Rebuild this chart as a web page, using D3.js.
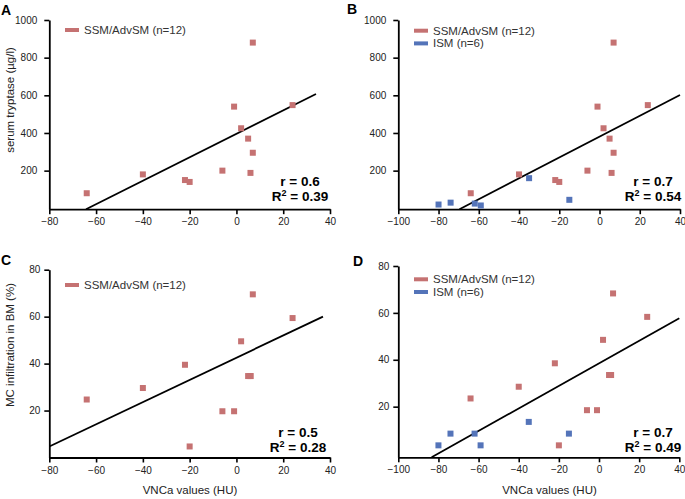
<!DOCTYPE html>
<html>
<head>
<meta charset="utf-8">
<script src="https://cdn.jsdelivr.net/npm/d3@7"></script>
<style>
  html, body { margin: 0; padding: 0; background: #fff; }
  svg { display: block; font-family: "Liberation Sans", Arial, sans-serif; }
</style>
</head>
<body>
<svg id="chart" width="685" height="499"></svg>
<script>
// ---------------- DATA ----------------
// Panel A / B : serum tryptase vs VNCa
const ssmVNCa      = [-64, -40, -22, -20, -6, -1, 2, 5, 7, 6, 7, 24];
const ssmTryptase  = [80, 180, 150, 140, 200, 540, 425, 370, 295, 188, 880, 548];
const ismVNCa      = [-80, -74, -62, -59, -35, -15];
const ismTryptase  = [20, 30, 25, 15, 160, 45];

// Panel C : MC infiltration (SSM/AdvSM only)
const ssmVNCaMC    = [-64, -40, -22, -20, -6, -1, 2, 5, 6, 6, 7, 24];
const ssmMCinfC    = [24.7, 29.6, 39.5, 4.7, 19.7, 19.7, 49.5, 34.7, 34.7, 34.7, 69.5, 59.4];
// Panel D : MC infiltration (both groups)
const ssmMCinfD    = [23.5, 28.5, 38.5, 3.5, 18.5, 18.5, 48.5, 33.5, 33.5, 33.5, 68.3, 58.3];
const ismMCinfD    = [3.5, 8.5, 8.5, 3.5, 13.5, 8.5];

// Regression lines (end points)
const fitAx = [-64.3, 34],   fitAy = [-4.8, 607];
const fitBx = [-69.6, 40],   fitBy = [-4.8, 602];
const fitCx = [-80, 37],     fitCy = [4.7, 60];
const fitDx = [-83.4, 40],   fitDy = [-1.6, 57.7];

// Statistics
const panelLetters = ["A", "B", "C", "D"];
const rValues  = ["0.6", "0.7", "0.5", "0.7"];
const r2Values = ["0.39", "0.54", "0.28", "0.49"];

// Ticks
const xTicksAC = [-80, -60, -40, -20, 0, 20, 40];
const xTicksBD = [-100, -80, -60, -40, -20, 0, 20, 40];
const yTicksTryptase = [200, 400, 600, 800, 1000];
const yTicksMC = [20, 40, 60, 80];

// Labels
const ssmLabel = "SSM/AdvSM (n=12)";
const ismLabel = "ISM (n=6)";
const yTitleTryptase = "serum tryptase (µg/l)";
const yTitleMC = "MC infiltration in BM (%)";
const xTitle = "VNCa values (HU)";

// ---------------- STYLE ----------------
const RED = "#c57272";
const BLUE = "#5474b9";
const svg = d3.select("#chart");

const zip = (xs, ys) => xs.map((x, i) => ({x, y: ys[i]}));
const fmt = d3.format("d");

const panels = [
  { letter: 0, lx: 1, ly: 15,
    xr: [49.3, 330], yr: [209.2, 20], xd: [-80, 40], yd: [-4.8, 1000],
    xt: xTicksAC, yt: yTicksTryptase, yPad: 7,
    series: [{c: RED, pts: zip(ssmVNCa, ssmTryptase)}],
    fit: zip(fitAx, fitAy),
    legend: {x: 65, y: 30, items: [[RED, ssmLabel]]},
    stats: {x: 300, y1: 185.7, y2: 201, i: 0},
    yTitle: {text: yTitleTryptase, x: 14, y: 100},
    xTitle: null },
  { letter: 1, lx: 347, ly: 14,
    xr: [398.3, 680], yr: [209.2, 20], xd: [-100, 40], yd: [-4.8, 1000],
    xt: xTicksBD, yt: yTicksTryptase, yPad: 7,
    series: [{c: RED, pts: zip(ssmVNCa, ssmTryptase)}, {c: BLUE, pts: zip(ismVNCa, ismTryptase)}],
    fit: zip(fitBx, fitBy),
    legend: {x: 414, y: 30.7, items: [[RED, ssmLabel], [BLUE, ismLabel]]},
    stats: {x: 653, y1: 185.7, y2: 201, i: 1},
    yTitle: null, xTitle: null },
  { letter: 2, lx: 1, ly: 265,
    xr: [49.3, 330], yr: [457.5, 269.7], xd: [-80, 40], yd: [0, 80],
    xt: xTicksAC, yt: yTicksMC, yPad: 4,
    series: [{c: RED, pts: zip(ssmVNCaMC, ssmMCinfC)}],
    fit: zip(fitCx, fitCy),
    legend: {x: 65, y: 285, items: [[RED, ssmLabel]]},
    stats: {x: 298, y1: 436.7, y2: 452.3, i: 2},
    yTitle: {text: yTitleMC, x: 14, y: 345},
    xTitle: {x: 190, y: 494} },
  { letter: 3, lx: 353, ly: 266,
    xr: [398.3, 679.3], yr: [457.3, 266], xd: [-100, 40], yd: [-1.6, 80],
    xt: xTicksBD, yt: yTicksMC, yPad: 4,
    series: [{c: RED, pts: zip(ssmVNCaMC, ssmMCinfD)}, {c: BLUE, pts: zip(ismVNCa, ismMCinfD)}],
    fit: zip(fitDx, fitDy),
    legend: {x: 414, y: 279.3, items: [[RED, ssmLabel], [BLUE, ismLabel]]},
    stats: {x: 653, y1: 436.7, y2: 452.3, i: 3},
    yTitle: null,
    xTitle: {x: 549.5, y: 494} }
];

panels.forEach(p => {
  const g = svg.append("g");
  const x = d3.scaleLinear().domain(p.xd).range(p.xr);
  const y = d3.scaleLinear().domain(p.yd).range(p.yr);

  // axes
  const yAxis = d3.axisLeft(y).tickValues(p.yt).tickFormat(fmt).tickSize(5).tickPadding(p.yPad).tickSizeOuter(0);
  const xAxis = d3.axisBottom(x).tickValues(p.xt).tickFormat(fmt).tickSize(5).tickPadding(4).tickSizeOuter(0);
  const ya = g.append("g").attr("transform", `translate(${p.xr[0]},0)`).call(yAxis);
  const xa = g.append("g").attr("transform", `translate(0,${p.yr[0]})`).call(xAxis);
  [ya, xa].forEach(a => {
    a.select(".domain").attr("stroke", "#000").attr("stroke-width", 1.8);
    a.selectAll(".tick line").attr("stroke", "#000").attr("stroke-width", 1.6);
    a.selectAll(".tick text").attr("fill", "#222").style("font-size", "10px")
      .style("font-family", "'Liberation Sans', Arial, sans-serif");
  });

  // regression line
  g.append("path")
    .datum(p.fit)
    .attr("fill", "none").attr("stroke", "#000").attr("stroke-width", 1.8)
    .attr("d", d3.line().x(d => x(d.x)).y(d => y(d.y)));

  // points
  p.series.forEach(s => {
    g.append("g").selectAll("rect").data(s.pts).join("rect")
      .attr("x", d => x(d.x) - 3).attr("y", d => y(d.y) - 3)
      .attr("width", 6).attr("height", 6)
      .attr("fill", s.c);
  });

  // legend
  p.legend.items.forEach((it, i) => {
    const ly = p.legend.y + i * 12.7;
    g.append("line").attr("x1", p.legend.x).attr("x2", p.legend.x + 14)
      .attr("y1", ly).attr("y2", ly).attr("stroke", it[0]).attr("stroke-width", 4);
    g.append("text").attr("x", p.legend.x + 19).attr("y", ly + 4)
      .attr("fill", "#333").style("font-size", "11.5px").text(it[1]);
  });

  // stats
  const st = g.append("g").attr("font-weight", "bold").attr("fill", "#000")
    .style("font-size", "13.5px").attr("text-anchor", "middle");
  st.append("text").attr("x", p.stats.x).attr("y", p.stats.y1).text("r = " + rValues[p.stats.i]);
  const t2 = st.append("text").attr("x", p.stats.x).attr("y", p.stats.y2);
  t2.append("tspan").text("R");
  t2.append("tspan").attr("dy", -5).style("font-size", "9px").text("2");
  t2.append("tspan").attr("dy", 5).text(" = " + r2Values[p.stats.i]);

  // panel letter
  g.append("text").attr("x", p.lx).attr("y", p.ly).attr("font-weight", "bold")
    .style("font-size", "14px").attr("fill", "#000").text(panelLetters[p.letter]);

  // titles
  if (p.yTitle) {
    g.append("text").attr("transform", `translate(${p.yTitle.x},${p.yTitle.y}) rotate(-90)`)
      .attr("text-anchor", "middle").attr("fill", "#222").style("font-size", "11.5px")
      .text(p.yTitle.text);
  }
  if (p.xTitle) {
    g.append("text").attr("x", p.xTitle.x).attr("y", p.xTitle.y)
      .attr("text-anchor", "middle").attr("fill", "#222").style("font-size", "11.5px")
      .text(xTitle);
  }
});
</script>
</body>
</html>
